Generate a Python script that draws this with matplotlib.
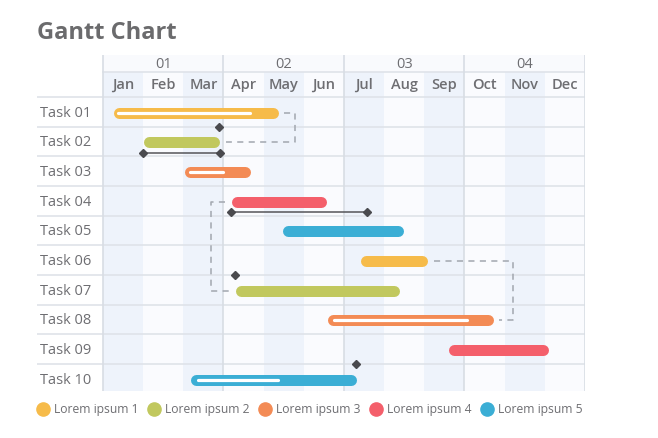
import numpy as np
import matplotlib.pyplot as plt
from matplotlib.lines import Line2D

plt.rcParams['font.family'] = ['Open Sans', 'DejaVu Sans']

# ---- data ----
tasks = ["Task 01", "Task 02", "Task 03", "Task 04", "Task 05",
         "Task 06", "Task 07", "Task 08", "Task 09", "Task 10"]
months = ["Jan", "Feb", "Mar", "Apr", "May", "Jun",
          "Jul", "Aug", "Sep", "Oct", "Nov", "Dec"]
quarters = ["01", "02", "03", "04"]
series = ["Lorem ipsum 1", "Lorem ipsum 2", "Lorem ipsum 3", "Lorem ipsum 4", "Lorem ipsum 5"]

# start / end in months from the beginning of Jan
starts = [0.25, 1.00, 2.02, 3.19, 4.48, 6.40, 3.29, 5.60, 8.61, 2.19]
ends = [4.36, 2.91, 3.68, 5.57, 7.47, 8.09, 7.37, 9.71, 11.10, 6.30]
groups = [0, 1, 2, 3, 4, 0, 1, 2, 3, 4]

# progress marks (white line inside bar)
prog_task = [0, 2, 7, 9]
prog_start = [0.37, 2.17, 5.75, 2.36]
prog_end = [3.66, 2.99, 9.06, 4.36]

# spans with diamonds under a bar
span_task = [1, 3]
span_start = [1.00, 3.19]
span_end = [2.91, 6.57]

# milestones on the row border above a task
ms_task = [1, 6, 9]
ms_month = [2.89, 3.29, 6.30]

# dashed dependency links: (task a, task b, side, turn x)
link_a = [0, 3, 5]
link_b = [1, 6, 7]
link_side = ["end", "start", "end"]
link_turn = [4.78, 2.69, 10.21]

colors = ["#F6BB4A", "#C1C85E", "#F38B55", "#F45F6B", "#3BAED5"]
text_c = "#6E6E72"
line_c = "#DFE3E9"

fig = plt.figure(figsize=(6.58, 4.38), dpi=100)
ax = fig.add_axes([37 / 658, 47 / 438, 548 / 658, 336 / 438])
label_w = 66 / 40.17
head_q = 1.415
head_m = 0.84
y_bottom = 9.91
ax.set_xlim(-label_w, 12)
ax.set_ylim(y_bottom, -head_q)
ax.axis('off')

# column shading
for i in range(12):
    c = "#EEF3FB" if i % 2 == 0 else "#FAFBFE"
    ax.fill_between([i, i + 1], -head_m, y_bottom, color=c, lw=0, zorder=0)
ax.fill_between([0, 12], -head_q, -head_m, color="#F9FAFD", lw=0, zorder=0)

# grid
for r in range(len(tasks)):
    ax.plot([-label_w, 12], [r, r], color=line_c, lw=1.2, zorder=1)
ax.plot([0, 12], [-head_m, -head_m], color=line_c, lw=1.2, zorder=1)
for q in range(5):
    ax.plot([q * 3, q * 3], [-head_q, y_bottom], color="#D8DDE4", lw=1.2, zorder=1)

# header text
for i, m in enumerate(months):
    ax.text(i + 0.5, -head_m / 2, m, ha='center', va='center', fontsize=10.5,
            color=text_c, fontweight='semibold')
for q, lab in enumerate(quarters):
    ax.text(q * 3 + 1.5, -head_m - (head_q - head_m) / 2 + 0.02, lab, ha='center',
            va='center', fontsize=10.5, color=text_c)
for r, t in enumerate(tasks):
    ax.text(-label_w + 0.08, r + 0.54, t, ha='left', va='center', fontsize=10.5,
            color=text_c)

fig.text(37 / 658, 1 - 33 / 438, "Gantt Chart", fontsize=17, fontweight='bold',
         color="#6B6B6D", ha='left', va='center')

# bars
fig.canvas.draw()
px_per_month = ax.bbox.width / (12 + label_w)
bar_px = 11
cap = (bar_px / 2) / px_per_month
bar_lw = bar_px * 72 / fig.dpi
for r in range(len(tasks)):
    y = r + 0.53
    ax.plot([starts[r] + cap, ends[r] - cap], [y, y], color=colors[groups[r]],
            lw=bar_lw, solid_capstyle='round', zorder=3)
for t, s, e in zip(prog_task, prog_start, prog_end):
    y = t + 0.53
    ax.plot([s, e], [y, y], color="white", lw=2.3, solid_capstyle='round', zorder=4)

for t, s, e in zip(span_task, span_start, span_end):
    y = t + 0.88
    ax.plot([s, e], [y, y], color="#555559", lw=1.1, zorder=4)
    ax.plot([s, e], [y, y], ls='none', marker='D', ms=4.2, color="#4A4A4E", zorder=5)
ax.plot(ms_month, ms_task, ls='none', marker='D', ms=4.2, color="#4A4A4E", zorder=5)

# dependency links
gap = 0.15
for a, b, side, tx in zip(link_a, link_b, link_side, link_turn):
    if side == "end":
        xa, xb = ends[a] + gap, ends[b] + gap
    else:
        xa, xb = starts[a] - gap, starts[b] - gap
    ya, yb = a + 0.53, b + 0.53
    ax.plot([xa, tx, tx, xb], [ya, ya, yb, yb], color="#A2A7AF", lw=1.1,
            ls=(0, (4, 3.5)), zorder=2)

# legend
handles = [Line2D([], [], ls='none', marker='o', ms=9.5, color=c) for c in colors]
fig.legend(handles, series, loc='center left', bbox_to_anchor=(32 / 658, 1 - 410 / 438),
           ncol=5, frameon=False, handletextpad=0.4, columnspacing=0.8,
           handlelength=1.0, fontsize=8.7, labelcolor=text_c, borderaxespad=0)

fig.savefig("out.png", dpi=100, facecolor="white")
